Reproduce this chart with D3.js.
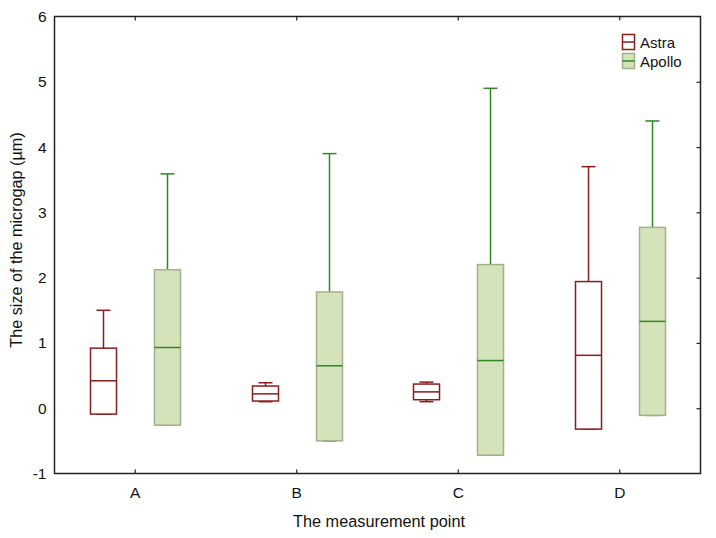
<!DOCTYPE html>
<html><head><meta charset="utf-8">
<script src="https://cdn.jsdelivr.net/npm/d3@7"></script>
<style>body{margin:0;background:#fff}svg{display:block}text{font-family:"Liberation Sans",Arial,sans-serif;fill:#111}</style>
</head><body><svg id="c" width="716" height="538"></svg>
<script>
const categories = ["A","B","C","D"];
const yTicks = [-1,0,1,2,3,4,5,6];
const astraMax    = [1.50, 0.39, 0.40, 3.70];
const astraQ3     = [0.92, 0.34, 0.37, 1.94];
const astraMedian = [0.42, 0.22, 0.25, 0.81];
const astraQ1     = [-0.09, 0.11, 0.13, -0.32];
const astraMin    = [-0.09, 0.10, 0.10, -0.32];
const apolloMax    = [3.59, 3.90, 4.90, 4.40];
const apolloQ3     = [2.12, 1.78, 2.20, 2.77];
const apolloMedian = [0.93, 0.65, 0.73, 1.33];
const apolloQ1     = [-0.26, -0.50, -0.72, -0.11];
const apolloMin    = [-0.26, -0.50, -0.72, -0.11];
const seriesNames = ["Astra","Apollo"];

const svg = d3.select("#c");
const L=54.5, R=700.5, T=16.5, B=473.5;
const x = d3.scaleBand().domain(categories).range([L,R]).padding(0);
const y = d3.scaleLinear().domain([-1,6]).range([B,T]);

const styles = [
  {fill:"#ffffff", stroke:"#8b1c1c", median:"#8b1c1c", whisker:"#8b1c1c", off:-32},
  {fill:"#d5e3bb", stroke:"#a2b08c", median:"#2a8a1e", whisker:"#2a8a1e", off:32}
];
const series = [
  categories.map((c,i)=>({c, max:astraMax[i], q3:astraQ3[i], med:astraMedian[i], q1:astraQ1[i], min:astraMin[i]})),
  categories.map((c,i)=>({c, max:apolloMax[i], q3:apolloQ3[i], med:apolloMedian[i], q1:apolloQ1[i], min:apolloMin[i]}))
];
const bw = 26, cw = 14;

series.forEach((s,si)=>{
  const st = styles[si];
  const g = svg.append("g");
  s.forEach(d=>{
    const cx = Math.round(x(d.c)+x.bandwidth()/2+st.off)+0.5;
    g.append("line").attr("x1",cx).attr("x2",cx).attr("y1",y(d.max)).attr("y2",y(d.q3)).attr("stroke",st.whisker).attr("stroke-width",1.5);
    g.append("line").attr("x1",cx-cw/2).attr("x2",cx+cw/2).attr("y1",y(d.max)).attr("y2",y(d.max)).attr("stroke",st.whisker).attr("stroke-width",1.5);
    g.append("line").attr("x1",cx).attr("x2",cx).attr("y1",y(d.q1)).attr("y2",y(d.min)).attr("stroke",st.whisker).attr("stroke-width",1.5);
    g.append("line").attr("x1",cx-cw/2).attr("x2",cx+cw/2).attr("y1",y(d.min)).attr("y2",y(d.min)).attr("stroke",st.whisker).attr("stroke-width",1.5);
    g.append("rect").attr("x",cx-bw/2).attr("width",bw).attr("y",y(d.q3)).attr("height",y(d.q1)-y(d.q3))
      .attr("fill",st.fill).attr("stroke",st.stroke).attr("stroke-width",1.5);
    g.append("line").attr("x1",cx-bw/2).attr("x2",cx+bw/2).attr("y1",y(d.med)).attr("y2",y(d.med)).attr("stroke",st.median).attr("stroke-width",1.5);
  });
});

svg.append("rect").attr("x",L).attr("y",T).attr("width",R-L).attr("height",B-T).attr("fill","none").attr("stroke","#222").attr("stroke-width",1.5);

const yl = svg.append("g").attr("transform",`translate(${L},0)`)
  .call(d3.axisLeft(y).tickValues(yTicks).tickSize(0).tickPadding(8).tickFormat(d=>String(d)));
yl.select(".domain").remove();
yl.selectAll("text").attr("font-size",15.5).style("font-family","Liberation Sans, Arial, sans-serif").attr("fill","#111");
const yr = svg.append("g").attr("transform",`translate(${R},0)`)
  .call(d3.axisLeft(y).tickValues(yTicks.filter(v=>v>-1&&v<6)).tickSize(4).tickFormat(""));
yr.select(".domain").remove();
yr.selectAll("line").attr("stroke","#222").attr("stroke-width",1.2);

const xb = svg.append("g").attr("transform",`translate(0,${B})`)
  .call(d3.axisTop(x).tickSize(4).tickFormat(""));
xb.select(".domain").remove();
xb.selectAll("line").attr("stroke","#222").attr("stroke-width",1.2);
const xl = svg.append("g").attr("transform",`translate(0,${B})`)
  .call(d3.axisBottom(x).tickSize(0).tickPadding(13));
xl.select(".domain").remove();
xl.selectAll("text").attr("font-size",15.5).style("font-family","Liberation Sans, Arial, sans-serif").attr("fill","#111");
const xt = svg.append("g").attr("transform",`translate(0,${T})`)
  .call(d3.axisBottom(x).tickSize(4).tickFormat(""));
xt.select(".domain").remove();
xt.selectAll("line").attr("stroke","#222").attr("stroke-width",1.2);

svg.append("text").attr("x",379).attr("y",526.5).attr("text-anchor","middle").attr("font-size",16.3).text("The measurement point");
svg.append("text").attr("transform","translate(22,240) rotate(-90)").attr("text-anchor","middle").attr("font-size",16.2).text("The size of the microgap (µm)");

const lg = svg.append("g");
seriesNames.forEach((n,i)=>{
  const st = styles[i];
  const yy = 34.5 + i*19;
  lg.append("rect").attr("x",622.5).attr("y",yy).attr("width",12).attr("height",15).attr("fill",st.fill).attr("stroke",st.stroke).attr("stroke-width",1.5);
  lg.append("line").attr("x1",622.5).attr("x2",634.5).attr("y1",yy+7.5).attr("y2",yy+7.5).attr("stroke",st.median).attr("stroke-width",1.5);
  lg.append("text").attr("x",640).attr("y",yy+13).attr("font-size",15).text(n);
});
</script></body></html>
